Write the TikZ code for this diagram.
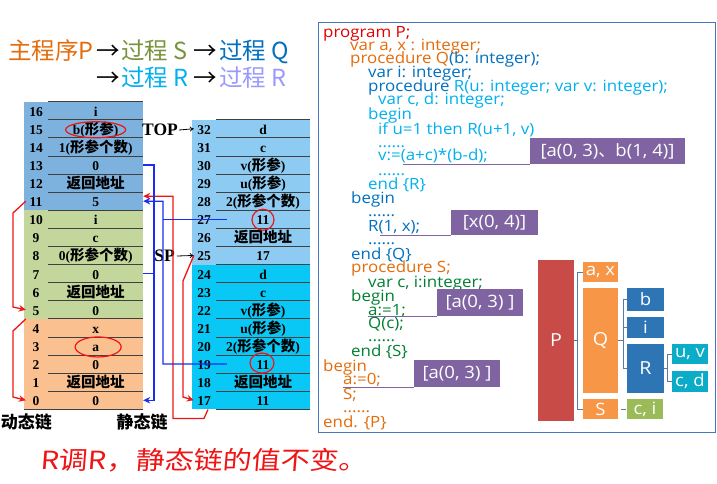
\documentclass[tikz,border=0pt]{standalone}
\usepackage{fontspec}
\setmainfont{Liberation Serif}
\newfontfamily\cjk{Noto Sans CJK SC}
\newfontfamily\codefont{Open Sans}[FakeStretch=1.09]
\newfontfamily\handfont{Noto Sans CJK SC}[FakeStretch=1.16,FakeSlant=0.08]
\usetikzlibrary{arrows.meta,calc}

% stack colours
\definecolor{lblue}{RGB}{126,178,222}
\definecolor{lgreen}{RGB}{195,214,155}
\definecolor{lorange}{RGB}{250,192,144}
\definecolor{rblue}{RGB}{141,203,243}
\definecolor{rcyan}{RGB}{10,200,245}
\definecolor{dynred}{RGB}{240,20,20}
\definecolor{statblue}{RGB}{25,45,245}
% code colours
\definecolor{cRed}{RGB}{226,0,0}
\definecolor{cOrange}{RGB}{228,108,10}
\definecolor{cBlue}{RGB}{0,112,192}
\definecolor{cCyan}{RGB}{0,176,240}
\definecolor{cGreen}{RGB}{0,128,50}
\definecolor{cGreenT}{RGB}{119,147,60}
\definecolor{cLilac}{RGB}{153,153,255}
\definecolor{pLabel}{RGB}{128,100,162}
\definecolor{frameBlue}{RGB}{70,120,190}
% scope tree colours
\definecolor{tRed}{RGB}{200,75,72}
\definecolor{tOrange}{RGB}{247,150,70}
\definecolor{tBlue}{RGB}{46,117,182}
\definecolor{tTeal}{RGB}{10,172,200}
\definecolor{tGreen}{RGB}{155,187,89}
\definecolor{brkcol}{RGB}{90,120,160}

\newcommand\zh[1]{{\cjk\bfseries\fontsize{14.5}{15}\selectfont #1}}

\begin{document}
\begin{tikzpicture}[x=1pt,y=-1pt,
  numcell/.style={inner sep=0pt, minimum width=20pt, minimum height=18.1pt,
    text height=12pt, text depth=1pt, font=\bfseries\fontsize{13.5}{14}\selectfont},
  valcell/.style={inner sep=0pt, minimum width=94.7pt, minimum height=18.1pt,
    text height=12pt, text depth=1pt, font=\bfseries\fontsize{13.5}{14}\selectfont},
  rowline/.style={draw=black!75, line width=0.8pt},
  dyn/.style={draw=dynred, line width=1.3pt, -{Stealth[length=7pt,width=6.5pt]}},
  stat/.style={draw=statblue, line width=1.3pt, -{Stealth[length=7pt,width=6.5pt]}},
  statline/.style={draw=statblue, line width=1.3pt},
  ring/.style={draw=dynred, line width=1.2pt},
  ptr/.style={draw=black, line width=0.8pt, -{To[length=4pt,width=5pt]}},
  ttl/.style={inner sep=0pt, anchor=base west, font=\cjk\fontsize{23.5}{24}\selectfont},
  code/.style={inner sep=0pt, anchor=base west, font=\codefont\fontsize{15.5}{15.5}\selectfont},
  plabel/.style={fill=pLabel, text=white, inner sep=0pt, font=\codefont\fontsize{17}{17}\selectfont},
  callout/.style={draw=pLabel, line width=0.8pt},
  tbox/.style={inner sep=0pt, text=white, font=\codefont\fontsize{17}{17}\selectfont},
  brk/.style={draw=brkcol, line width=0.9pt}
]
\useasboundingbox (0,0) rectangle (717,483);
\fill[white] (0,0) rectangle (717,483);

% ---------- heading: call sequence ----------
\node[ttl, text=cOrange] (h1) at (8,59) {主程序P};
\node[ttl] (a1) at (96,59) {→};
\node[ttl, text=cGreenT] (h2) at (121,59) {过程 S};
\node[ttl] (a2) at (193,59) {→};
\node[ttl, text=cBlue] (h3) at (219,59) {过程 Q};
\node[ttl] (a3) at (96,86) {→};
\node[ttl, text=cCyan] (h4) at (121,86) {过程 R};
\node[ttl] (a4) at (193,86) {→};
\node[ttl, text=cLilac] (h5) at (219,86) {过程 R};

% ---------- run-time stack, frames of P, S, Q ----------
\fill[lblue]   (24,101.6) rectangle (143,210.2);
\fill[lgreen]  (24,210.2) rectangle (143,318.8);
\fill[lorange] (24,318.8) rectangle (143,409.3);
% ---------- frames of R (two activations) ----------
\fill[rblue] (192,119.7) rectangle (310,264.5);
\fill[rcyan] (192,264.5) rectangle (310,409.3);

\foreach \k in {1,...,17} \draw[rowline] (48.3,{409.3-18.1*\k}) -- (143,{409.3-18.1*\k});
\draw[rowline] (24,409.3) -- (143,409.3);
\foreach \k in {0,...,16} \draw[rowline] (216,{409.3-18.1*\k}) -- (310,{409.3-18.1*\k});

\foreach \i/\t in {16/i,15/b(\zh{形参}),14/1(\zh{形参个数}),13/0,12/\zh{返回地址},11/5,
                   10/i,9/c,8/0(\zh{形参个数}),7/0,6/\zh{返回地址},5/0,
                   4/x,3/a,2/0,1/\zh{返回地址},0/0}{
  \node[numcell] (LN\i) at (36,{400.25-18.1*\i}) {\i};
  \node[valcell] (L\i) at (95.65,{400.25-18.1*\i}) {\t};
}
\foreach \j/\t in {32/d,31/c,30/v(\zh{形参}),29/u(\zh{形参}),28/2(\zh{形参个数}),27/11,26/\zh{返回地址},25/17,
                   24/d,23/c,22/v(\zh{形参}),21/u(\zh{形参}),20/2(\zh{形参个数}),19/11,18/\zh{返回地址},17/11}{
  \node[numcell] (RN\j) at (204,{400.25-18.1*(\j-17)}) {\j};
  \node[valcell, minimum width=94pt] (R\j) at (263,{400.25-18.1*(\j-17)}) {\t};
}

% TOP and SP pointers
\node[inner sep=0pt, anchor=east, font=\bfseries\fontsize{17.5}{18}\selectfont] (top) at (178,130) {TOP};
\node[inner sep=0pt, anchor=east, font=\bfseries\fontsize{17.5}{18}\selectfont] (sp) at (175,256) {SP};
\draw[ptr] ([xshift=1pt]top.east) -- (RN32.west);
\draw[ptr] ([xshift=2pt]sp.east) -- (RN25.west);

% highlighted entries
\draw[ring] ($(L15)+(0,1)$) ellipse [x radius=30, y radius=8];
\draw[ring] ($(L3)+(2.5,1)$) ellipse [x radius=23, y radius=10];
\draw[ring] ($(R27)+(0,0.5)$) ellipse [x radius=11, y radius=10.5];
\draw[ring] ($(R19)+(-1,-1)$) ellipse [x radius=12, y radius=10];

% dynamic links
\draw[dyn] (LN11.west) -- (13,213) -- (13,307) -- (LN5.west);
\draw[dyn] (LN5.south west) -- (13,331) -- (13,397) -- (LN0.west);
\draw[dyn] (RN25.west) -- (183,281) -- (183,397) -- (RN17.west);
\draw[dyn] ([xshift=4pt]RN17.south) -- ++(-4,9) -| (173,196.2) -- ([yshift=5pt]L11.east);

% static links
\draw[stat] (L13.east) -| (154,400.25) -- (L0.east);
\draw[statline] (L7.east) -- ++(11,0);
\draw[stat] ([xshift=11pt]R19.west) -| (163,201.2) -- (L11.east);
\draw[statline] ([xshift=11pt]R27.west) -- ++(-64,0);

\node[inner sep=0pt, anchor=east, font=\cjk\bfseries\fontsize{17}{17}\selectfont] (dynlbl) at (52,422) {动态链};
\node[inner sep=0pt, font=\cjk\bfseries\fontsize{17}{17}\selectfont] (statlbl) at (142,422) {静态链};

% ---------- program text ----------
\draw[draw=frameBlue, line width=1pt] (318,22) rectangle (715,432);

\node[code, text=cRed] (c1) at (323,37) {program P;};
\node[code, text=cOrange] (c2) at (350,50) {var a, x : integer;};
\node[code, text=cOrange] (c3) at (350,63) {procedure Q\textcolor{cBlue}{(b: integer);}};
\node[code, text=cBlue] (c4) at (368,77) {var i: integer;};
\node[code, text=cBlue] (c5) at (368,91) {procedure \textcolor{cCyan}{R(u: integer; var v: integer);}};
\node[code, text=cCyan] (c6) at (378,104) {var c, d: integer;};
\node[code, text=cCyan] (c7) at (368,119) {begin};
\node[code, text=cCyan] (c8) at (378,134) {if u=1 then R(u+1, v)};
\node[code, text=cCyan] (c9) at (378,147) {......};
\node[code, text=cCyan] (c10) at (378,160) {v:=(a+c)*(b-d);};
\node[code, text=cCyan] (c11) at (378,175) {......};
\node[code, text=cCyan] (c12) at (368,189) {end \{R\}};
\node[code, text=cBlue] (c13) at (351,203) {begin};
\node[code, text=cBlue] (c14) at (368,216) {......};
\node[code, text=cBlue] (c15) at (368,231) {R(1, x);};
\node[code, text=cBlue] (c16) at (368,244) {......};
\node[code, text=cBlue] (c17) at (351,259) {end \{Q\}};
\node[code, text=cOrange] (c18) at (351,272) {procedure S;};
\node[code, text=cGreen] (c19) at (368,287) {var c, i:integer;};
\node[code, text=cGreen] (c20) at (351,301) {begin};
\node[code, text=cGreen] (c21) at (368,315) {a:=1;};
\node[code, text=cGreen] (c22) at (368,328) {Q(c);};
\node[code, text=cGreen] (c23) at (368,341) {......};
\node[code, text=cGreen] (c24) at (351,356) {end \{S\}};
\node[code, text=cOrange] (c25) at (323,371) {begin};
\node[code, text=cOrange] (c26) at (343,384) {a:=0;};
\node[code, text=cOrange] (c27) at (343,399) {S;};
\node[code, text=cOrange] (c28) at (343,412) {......};
\node[code, text=cOrange] (c29) at (323,427) {end. \{P\}};

% visible-variable labels
\node[plabel, minimum width=155pt, minimum height=26pt] (lab1) at (607.5,151) {[a(0, 3){\cjk 、}b(1, 4)]};
\node[plabel, minimum width=87pt, minimum height=25pt] (lab2) at (494.5,222.5) {[x(0, 4)]};
\node[plabel, minimum width=86pt, minimum height=27pt] (lab3) at (480,302.5) {[a(0, 3) ]};
\node[plabel, minimum width=86pt, minimum height=27pt] (lab4) at (457,373.5) {[a(0, 3) ]};
\draw[callout] ([xshift=-127pt]lab1.south west) -- (lab1.south west);
\draw[callout] ([xshift=-71pt]lab2.south west) -- (lab2.south west);
\draw[callout] ([xshift=-69pt]lab3.south west) -- (lab3.south west);
\draw[callout] ([xshift=-71pt]lab4.south west) -- (lab4.south west);

% ---------- scope tree ----------
\node[tbox, fill=tRed, minimum width=36pt, minimum height=161pt, font=\codefont\fontsize{18}{18}\selectfont] (tP) at (556,340.5) {P};
\node[tbox, fill=tOrange, minimum width=35pt, minimum height=20pt] (tax) at (600.5,272) {a, x};
\node[tbox, fill=tOrange, minimum width=35pt, minimum height=105pt, font=\codefont\fontsize{18}{18}\selectfont] (tQ) at (600.5,340.5) {Q};
\node[tbox, fill=tOrange, minimum width=35pt, minimum height=20pt] (tS) at (600.5,409) {S};
\node[tbox, fill=tGreen, minimum width=36pt, minimum height=20pt] (tci) at (645,409) {c, i};
\node[tbox, fill=tBlue, minimum width=37pt, minimum height=23pt] (tb) at (645.5,299.5) {b};
\node[tbox, fill=tBlue, minimum width=37pt, minimum height=21pt] (ti) at (645.5,327.5) {i};
\node[tbox, fill=tBlue, minimum width=37pt, minimum height=49pt, font=\codefont\fontsize{18}{18}\selectfont] (tR) at (645.5,368.5) {R};
\node[tbox, fill=tTeal, minimum width=36pt, minimum height=20pt] (tuv) at (690,354) {u, v};
\node[tbox, fill=tTeal, minimum width=36pt, minimum height=21pt] (tcd) at (690,381.5) {c, d};

\draw[brk] (tP.east) -- (578,340.5);
\draw[brk] (tax.west) -- ++(-5,0) |- (tS.west);
\draw[brk] (tQ.east) -- (624,340.5);
\draw[brk] (tb.west) -- ++(-3,0) |- (tR.west);
\draw[brk] (ti.west) -- ++(-3,0);
\draw[brk] (tR.east) -- (668,368.5);
\draw[brk] (tuv.west) -- ++(-4,0) |- (tcd.west);
\draw[brk] ([xshift=3pt]tS.east) -- ([xshift=-1pt]tci.west);

% ---------- note ----------
\node[inner sep=0pt, anchor=west, text=dynred, font=\handfont\fontsize{25}{25}\selectfont] (note) at (40,460) {R调R，静态链的值不变。};
\end{tikzpicture}
\end{document}
